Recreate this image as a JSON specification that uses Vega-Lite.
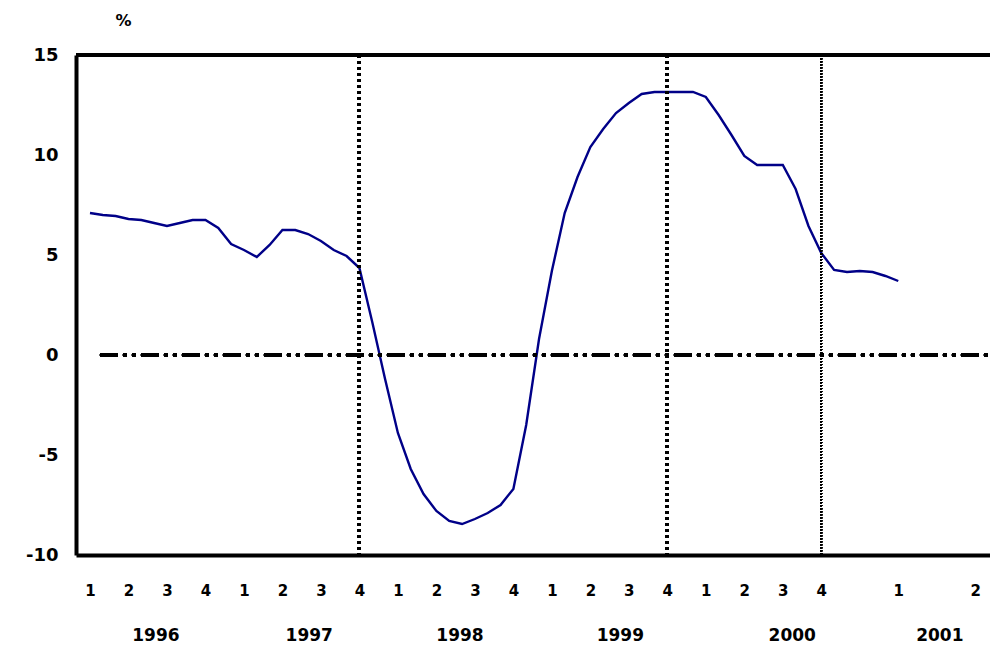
{
  "$schema": "https://vega.github.io/schema/vega-lite/v6.json",
  "width": 914,
  "height": 500,
  "autosize": {"type": "none"},
  "padding": {"left": 76, "top": 55, "right": 0, "bottom": 90},
  "background": "white",
  "config": {
    "view": {"stroke": null},
    "axis": {"labelOverlap": false, "labelBound": false, "labelFlush": false}
  },
  "data": {"values": [
    {"m": 0, "v": 7.1}, {"m": 1, "v": 7.0}, {"m": 2, "v": 6.95}, {"m": 3, "v": 6.8},
    {"m": 4, "v": 6.75}, {"m": 5, "v": 6.6}, {"m": 6, "v": 6.45}, {"m": 7, "v": 6.6},
    {"m": 8, "v": 6.75}, {"m": 9, "v": 6.75}, {"m": 10, "v": 6.35}, {"m": 11, "v": 5.55},
    {"m": 12, "v": 5.25}, {"m": 13, "v": 4.9}, {"m": 14, "v": 5.5}, {"m": 15, "v": 6.25},
    {"m": 16, "v": 6.25}, {"m": 17, "v": 6.05}, {"m": 18, "v": 5.7}, {"m": 19, "v": 5.25},
    {"m": 20, "v": 4.95}, {"m": 21, "v": 4.35}, {"m": 22, "v": 1.65}, {"m": 23, "v": -1.2},
    {"m": 24, "v": -3.9}, {"m": 25, "v": -5.7}, {"m": 26, "v": -6.95}, {"m": 27, "v": -7.8},
    {"m": 28, "v": -8.3}, {"m": 29, "v": -8.45}, {"m": 30, "v": -8.2}, {"m": 31, "v": -7.9},
    {"m": 32, "v": -7.5}, {"m": 33, "v": -6.7}, {"m": 34, "v": -3.5}, {"m": 35, "v": 0.8},
    {"m": 36, "v": 4.2}, {"m": 37, "v": 7.1}, {"m": 38, "v": 8.9}, {"m": 39, "v": 10.4},
    {"m": 40, "v": 11.3}, {"m": 41, "v": 12.1}, {"m": 42, "v": 12.6}, {"m": 43, "v": 13.05},
    {"m": 44, "v": 13.15}, {"m": 45, "v": 13.15}, {"m": 46, "v": 13.15}, {"m": 47, "v": 13.15},
    {"m": 48, "v": 12.9}, {"m": 49, "v": 12.0}, {"m": 50, "v": 11.0}, {"m": 51, "v": 9.95},
    {"m": 52, "v": 9.5}, {"m": 53, "v": 9.5}, {"m": 54, "v": 9.5}, {"m": 55, "v": 8.3},
    {"m": 56, "v": 6.45}, {"m": 57, "v": 5.1}, {"m": 58, "v": 4.25}, {"m": 59, "v": 4.15},
    {"m": 60, "v": 4.2}, {"m": 61, "v": 4.15}, {"m": 62, "v": 3.95}, {"m": 63, "v": 3.7}
  ]},
  "layer": [
    {
      "mark": {"type": "line", "color": "#000088", "strokeWidth": 2.4, "interpolate": "linear"},
      "encoding": {
        "x": {
          "field": "m",
          "type": "quantitative",
          "scale": {"domain": [-1.09, 70.15], "nice": false, "zero": false},
          "axis": {
            "title": null,
            "values": [0, 3, 5.1, 6, 9, 12, 15, 17.05, 18, 21, 24, 27, 28.8, 30, 33, 36, 39, 41.3, 42, 45, 48, 51, 54, 54.7, 57, 63, 66.2, 69],
            "labelExpr": "datum.value != floor(datum.value) ? (datum.value < 10 ? '1996' : datum.value < 25 ? '1997' : datum.value < 35 ? '1998' : datum.value < 48 ? '1999' : datum.value < 60 ? '2000' : '2001') : datum.value == 63 ? '1' : datum.value == 69 ? '2' : '' + ((datum.value / 3) % 4 + 1)",
            "domain": true, "domainColor": "black", "domainWidth": 4,
            "ticks": false, "tickSize": 0, "grid": false,
            "labelOverlap": false, "labelSeparation": 0, "labelBound": false, "labelFlush": false,
            "labelAlign": "center", "labelBaseline": "middle", "labelColor": "black",
            "labelFont": "DejaVu Sans", "labelFontWeight": "bold",
            "labelPadding": {"condition": {"test": "datum.value != floor(datum.value)", "value": 80}, "value": 35},
            "labelFontSize": {"condition": {"test": "datum.value != floor(datum.value)", "value": 17}, "value": 15}
          }
        },
        "y": {
          "field": "v",
          "type": "quantitative",
          "scale": {"domain": [-10, 15], "nice": false, "zero": false},
          "axis": {
            "title": "%", "titleAngle": 0, "titleX": 47, "titleY": -35,
            "titleAlign": "center", "titleBaseline": "middle",
            "titleFont": "DejaVu Sans", "titleFontSize": 16, "titleFontWeight": "bold", "titleColor": "black",
            "values": [-10, -5, 0, 5, 10, 15],
            "labelExpr": "datum.value < 0 ? '-' + abs(datum.value) : '' + datum.value",
            "domain": true, "domainColor": "black", "domainWidth": 4,
            "ticks": false, "tickSize": 0, "grid": false,
            "labelPadding": 18, "labelFont": "DejaVu Sans", "labelFontWeight": "bold",
            "labelFontSize": 18, "labelColor": "black", "labelBaseline": "middle"
          }
        }
      }
    },
    {
      "mark": {"type": "rule", "color": "black", "strokeWidth": 4},
      "encoding": {"y": {"datum": 15, "axis": {
            "title": "%", "titleAngle": 0, "titleX": 47, "titleY": -35,
            "titleAlign": "center", "titleBaseline": "middle",
            "titleFont": "DejaVu Sans", "titleFontSize": 16, "titleFontWeight": "bold", "titleColor": "black",
            "values": [-10, -5, 0, 5, 10, 15],
            "labelExpr": "datum.value < 0 ? '-' + abs(datum.value) : '' + datum.value",
            "domain": true, "domainColor": "black", "domainWidth": 4,
            "ticks": false, "tickSize": 0, "grid": false,
            "labelPadding": 18, "labelFont": "DejaVu Sans", "labelFontWeight": "bold",
            "labelFontSize": 18, "labelColor": "black", "labelBaseline": "middle"
          }}}
    },
    {
      "mark": {"type": "rule", "color": "black", "strokeWidth": 3, "strokeDash": [3, 3]},
      "encoding": {"x": {"datum": 21, "axis": {
            "title": null,
            "values": [0, 3, 5.1, 6, 9, 12, 15, 17.05, 18, 21, 24, 27, 28.8, 30, 33, 36, 39, 41.3, 42, 45, 48, 51, 54, 54.7, 57, 63, 66.2, 69],
            "labelExpr": "datum.value != floor(datum.value) ? (datum.value < 10 ? '1996' : datum.value < 25 ? '1997' : datum.value < 35 ? '1998' : datum.value < 48 ? '1999' : datum.value < 60 ? '2000' : '2001') : datum.value == 63 ? '1' : datum.value == 69 ? '2' : '' + ((datum.value / 3) % 4 + 1)",
            "domain": true, "domainColor": "black", "domainWidth": 4,
            "ticks": false, "tickSize": 0, "grid": false,
            "labelOverlap": false, "labelSeparation": 0, "labelBound": false, "labelFlush": false,
            "labelAlign": "center", "labelBaseline": "middle", "labelColor": "black",
            "labelFont": "DejaVu Sans", "labelFontWeight": "bold",
            "labelPadding": {"condition": {"test": "datum.value != floor(datum.value)", "value": 80}, "value": 35},
            "labelFontSize": {"condition": {"test": "datum.value != floor(datum.value)", "value": 17}, "value": 15}
          }}}
    },
    {
      "mark": {"type": "rule", "color": "black", "strokeWidth": 3, "strokeDash": [3, 3]},
      "encoding": {"x": {"datum": 45, "axis": {
            "title": null,
            "values": [0, 3, 5.1, 6, 9, 12, 15, 17.05, 18, 21, 24, 27, 28.8, 30, 33, 36, 39, 41.3, 42, 45, 48, 51, 54, 54.7, 57, 63, 66.2, 69],
            "labelExpr": "datum.value != floor(datum.value) ? (datum.value < 10 ? '1996' : datum.value < 25 ? '1997' : datum.value < 35 ? '1998' : datum.value < 48 ? '1999' : datum.value < 60 ? '2000' : '2001') : datum.value == 63 ? '1' : datum.value == 69 ? '2' : '' + ((datum.value / 3) % 4 + 1)",
            "domain": true, "domainColor": "black", "domainWidth": 4,
            "ticks": false, "tickSize": 0, "grid": false,
            "labelOverlap": false, "labelSeparation": 0, "labelBound": false, "labelFlush": false,
            "labelAlign": "center", "labelBaseline": "middle", "labelColor": "black",
            "labelFont": "DejaVu Sans", "labelFontWeight": "bold",
            "labelPadding": {"condition": {"test": "datum.value != floor(datum.value)", "value": 80}, "value": 35},
            "labelFontSize": {"condition": {"test": "datum.value != floor(datum.value)", "value": 17}, "value": 15}
          }}}
    },
    {
      "mark": {"type": "rule", "color": "black", "strokeWidth": 1.5, "strokeDash": [1.5, 1.5]},
      "encoding": {"x": {"datum": 57, "axis": {
            "title": null,
            "values": [0, 3, 5.1, 6, 9, 12, 15, 17.05, 18, 21, 24, 27, 28.8, 30, 33, 36, 39, 41.3, 42, 45, 48, 51, 54, 54.7, 57, 63, 66.2, 69],
            "labelExpr": "datum.value != floor(datum.value) ? (datum.value < 10 ? '1996' : datum.value < 25 ? '1997' : datum.value < 35 ? '1998' : datum.value < 48 ? '1999' : datum.value < 60 ? '2000' : '2001') : datum.value == 63 ? '1' : datum.value == 69 ? '2' : '' + ((datum.value / 3) % 4 + 1)",
            "domain": true, "domainColor": "black", "domainWidth": 4,
            "ticks": false, "tickSize": 0, "grid": false,
            "labelOverlap": false, "labelSeparation": 0, "labelBound": false, "labelFlush": false,
            "labelAlign": "center", "labelBaseline": "middle", "labelColor": "black",
            "labelFont": "DejaVu Sans", "labelFontWeight": "bold",
            "labelPadding": {"condition": {"test": "datum.value != floor(datum.value)", "value": 80}, "value": 35},
            "labelFontSize": {"condition": {"test": "datum.value != floor(datum.value)", "value": 17}, "value": 15}
          }}}
    },
    {
      "mark": {"type": "rule", "color": "black", "strokeWidth": 3, "strokeDash": [18, 5, 4, 5, 4, 5]},
      "encoding": {
        "x": {"datum": 0.78, "axis": {
            "title": null,
            "values": [0, 3, 5.1, 6, 9, 12, 15, 17.05, 18, 21, 24, 27, 28.8, 30, 33, 36, 39, 41.3, 42, 45, 48, 51, 54, 54.7, 57, 63, 66.2, 69],
            "labelExpr": "datum.value != floor(datum.value) ? (datum.value < 10 ? '1996' : datum.value < 25 ? '1997' : datum.value < 35 ? '1998' : datum.value < 48 ? '1999' : datum.value < 60 ? '2000' : '2001') : datum.value == 63 ? '1' : datum.value == 69 ? '2' : '' + ((datum.value / 3) % 4 + 1)",
            "domain": true, "domainColor": "black", "domainWidth": 4,
            "ticks": false, "tickSize": 0, "grid": false,
            "labelOverlap": false, "labelSeparation": 0, "labelBound": false, "labelFlush": false,
            "labelAlign": "center", "labelBaseline": "middle", "labelColor": "black",
            "labelFont": "DejaVu Sans", "labelFontWeight": "bold",
            "labelPadding": {"condition": {"test": "datum.value != floor(datum.value)", "value": 80}, "value": 35},
            "labelFontSize": {"condition": {"test": "datum.value != floor(datum.value)", "value": 17}, "value": 15}
          }},
        "x2": {"datum": 70.15},
        "y": {"datum": 0, "axis": {
            "title": "%", "titleAngle": 0, "titleX": 47, "titleY": -35,
            "titleAlign": "center", "titleBaseline": "middle",
            "titleFont": "DejaVu Sans", "titleFontSize": 16, "titleFontWeight": "bold", "titleColor": "black",
            "values": [-10, -5, 0, 5, 10, 15],
            "labelExpr": "datum.value < 0 ? '-' + abs(datum.value) : '' + datum.value",
            "domain": true, "domainColor": "black", "domainWidth": 4,
            "ticks": false, "tickSize": 0, "grid": false,
            "labelPadding": 18, "labelFont": "DejaVu Sans", "labelFontWeight": "bold",
            "labelFontSize": 18, "labelColor": "black", "labelBaseline": "middle"
          }}
      }
    }
  ]
}
